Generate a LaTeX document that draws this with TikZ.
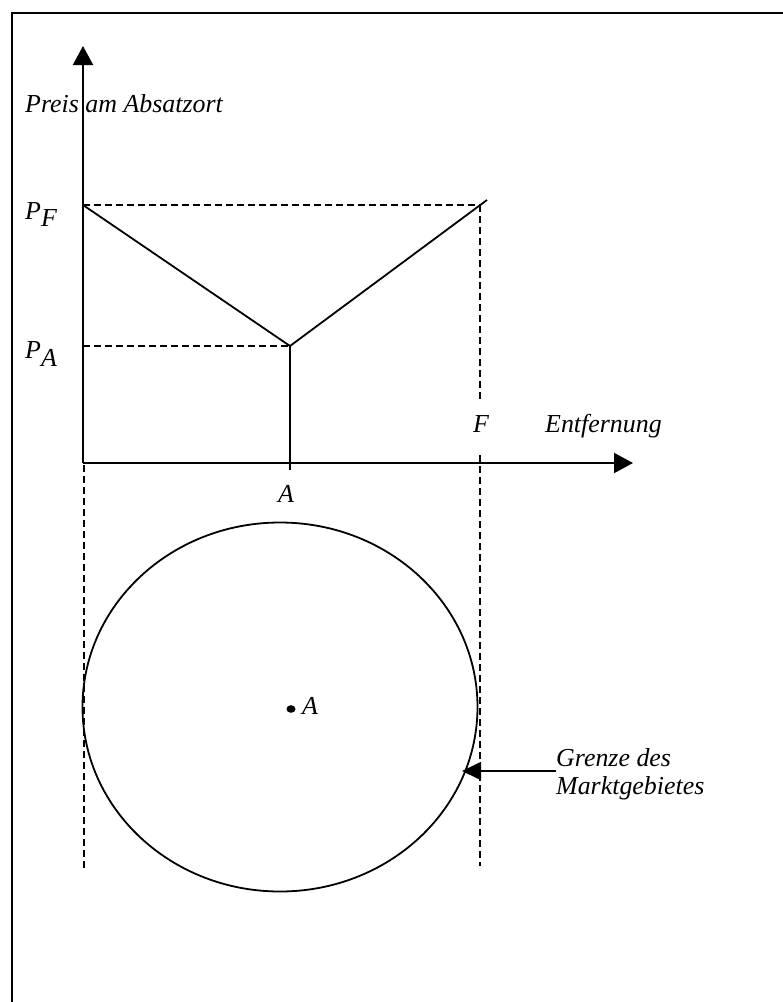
\documentclass[tikz,border=0pt]{standalone}
\usepackage{fontspec}
\setmainfont{Liberation Serif}
\usetikzlibrary{arrows.meta,shapes.geometric}
\tikzset{
  frameline/.style={line width=2.4bp},
  axisline/.style={line width=2.1bp, -{Triangle[width=20bp,length=19bp]}},
  curveline/.style={line width=1.8bp},
  guideline/.style={line width=1.6bp, dash pattern=on 7bp off 4bp},
  lbl/.style={inner sep=0pt, font=\fontsize{26}{28}\selectfont\itshape},
  pointer/.style={line width=1.8bp, -{Triangle[width=18bp,length=19bp]}},
}
\begin{document}
\begin{tikzpicture}[x=1bp,y=-1bp]
\useasboundingbox (0,0) rectangle (783,1002);
\clip (0,0) rectangle (783,1002);
% frame (only left and top edges visible)
\draw[frameline] (12,1030) -- (12,13) -- (800,13);
% key points
\coordinate (O) at (83,463);
\coordinate (Ytip) at (83,46);
\coordinate (Xtip) at (633,463);
\coordinate (PF) at (83,205);
\coordinate (V) at (290,346);
\coordinate (PA) at (83,346);
\coordinate (Rend) at (487,200);
\coordinate (Ftop) at (480,205);
\coordinate (Fgap1) at (480,400);
\coordinate (Fgap2) at (480,455);
\coordinate (Fbot) at (480,866);
\coordinate (Lbot) at (84,868);
\coordinate (Ltop) at (84,465);
\coordinate (Abot) at (290,470);
% axes
\draw[axisline] (O) -- (Ytip);
\draw[axisline] (O) -- (Xtip);
% price lines
\draw[curveline] (PF) -- (V) -- (Rend);
\draw[curveline] (V) -- (Abot);
% guides
\draw[guideline] (PF) -- (Ftop);
\draw[guideline] (PA) -- (V);
\draw[guideline] (Ftop) -- (Fgap1);
\draw[guideline] (Fgap2) -- (Fbot);
\draw[guideline] (Ltop) -- (Lbot);
% labels
\node[lbl, anchor=base west] (ylabel) at (25,112) {Preis am Absatzort};
\node[lbl, anchor=base west] (pf) at (25,219) {P\raisebox{-7bp}{F}};
\node[lbl, anchor=base west] (pa) at (25,358) {P\raisebox{-8bp}{A}};
\node[lbl, anchor=base] (flbl) at (481,432) {F};
\node[lbl, anchor=base west] (xlabel) at (545,432) {Entfernung};
\node[lbl, anchor=base] (albl) at (286,502) {A};
% market area
\node[draw, curveline, ellipse, minimum width=395bp, minimum height=369bp, inner sep=0pt] (area) at (280,707) {};
\coordinate (dotA) at (291,709);
\fill (dotA) ellipse [x radius=4.5bp, y radius=3.8bp];
\node[lbl, anchor=base west] (alabel) at (302,714) {A};
% boundary annotation
\node[lbl, anchor=base west] (g1) at (556,766) {Grenze des};
\node[lbl, anchor=base west] (g2) at (556,794) {Marktgebietes};
\coordinate (ptail) at (556,771);
\coordinate (ptip) at (462,771);
\draw[pointer] (ptail) -- (ptip);
\end{tikzpicture}
\end{document}
